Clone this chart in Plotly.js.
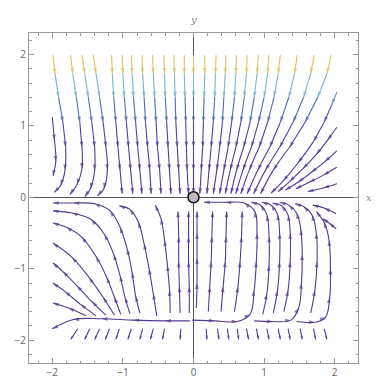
<!DOCTYPE html>
<html>
<head>
<meta charset="utf-8">
<script src="https://cdn.plot.ly/plotly-3.0.1.min.js"></script>
<style>html,body{margin:0;padding:0;background:#fff}</style>
</head>
<body>
<div id="plot" style="width:381px;height:389px"></div>
<script>
// upper half: lines that start at y = 2, x sampled at these heights
const levelsY = [1.99, 1.73, 1.40, 1.05, 0.70, 0.38, 0.05];
const topLinesX = [
    [-1.16, -1.15, -1.13, -1.10, -1.07, -1.04, -1.01],
    [-1.01, -1.00, -0.98, -0.95, -0.92, -0.89, -0.86],
    [-0.88, -0.87, -0.85, -0.82, -0.79, -0.76, -0.73],
    [-0.73, -0.72, -0.70, -0.68, -0.65, -0.62, -0.60],
    [-0.58, -0.57, -0.55, -0.53, -0.51, -0.48, -0.46],
    [-0.42, -0.41, -0.40, -0.38, -0.36, -0.34, -0.32],
    [-0.28, -0.27, -0.26, -0.25, -0.23, -0.21, -0.19],
    [-0.13, -0.13, -0.12, -0.11, -0.10, -0.09, -0.07],
    [0, 0, 0, 0, 0, 0, 0],
    [0.16, 0.16, 0.15, 0.14, 0.13, 0.11, 0.09],
    [0.32, 0.31, 0.30, 0.28, 0.25, 0.22, 0.19],
    [0.46, 0.45, 0.43, 0.41, 0.37, 0.33, 0.28],
    [0.61, 0.60, 0.58, 0.54, 0.49, 0.43, 0.37],
    [0.76, 0.75, 0.72, 0.67, 0.60, 0.52, 0.45],
    [0.92, 0.90, 0.86, 0.80, 0.71, 0.61, 0.53],
    [1.07, 1.05, 1.00, 0.92, 0.82, 0.70, 0.60],
    [1.23, 1.20, 1.14, 1.05, 0.93, 0.79, 0.67],
    [1.47, 1.43, 1.35, 1.23, 1.08, 0.91, 0.76],
    [1.71, 1.66, 1.56, 1.41, 1.22, 1.02, 0.85],
    [1.95, 1.89, 1.76, 1.58, 1.36, 1.13, 0.95],
];

// upper left lines bending left near the x axis
const upperLeftLines = [
    [[-1.99, 1.99], [-1.96, 1.72], [-1.91, 1.40], [-1.85, 1.05], [-1.81, 0.70], [-1.82, 0.38], [-1.88, 0.17], [-1.97, 0.07]],
    [[-1.74, 1.99], [-1.71, 1.73], [-1.66, 1.40], [-1.61, 1.05], [-1.58, 0.70], [-1.58, 0.40], [-1.65, 0.18], [-1.75, 0.04]],
    [[-1.58, 1.99], [-1.54, 1.73], [-1.49, 1.40], [-1.44, 1.05], [-1.40, 0.70], [-1.40, 0.38], [-1.46, 0.12], [-1.54, 0.01]],
    [[-1.42, 1.99], [-1.38, 1.73], [-1.33, 1.40], [-1.28, 1.05], [-1.24, 0.70], [-1.22, 0.38], [-1.27, 0.12], [-1.36, 0.02]],
    [[-2.00, 1.12], [-1.97, 0.80], [-1.95, 0.50], [-1.99, 0.30]],
];

// upper right lines entering from the right edge
const edgeLines = [
    [[2.03, 1.47], [1.96, 1.30], [1.85, 1.05], [1.70, 0.78], [1.48, 0.48], [1.27, 0.23], [1.10, 0.06]],
    [[2.03, 0.98], [1.90, 0.80], [1.74, 0.60], [1.55, 0.40], [1.36, 0.22], [1.20, 0.08]],
    [[2.03, 0.65], [1.86, 0.50], [1.67, 0.35], [1.48, 0.21], [1.30, 0.10]],
    [[2.03, 0.42], [1.84, 0.31], [1.64, 0.21], [1.45, 0.12]],
    [[2.03, 0.19], [1.84, 0.13], [1.62, 0.08]],
];

// lower right: loops rising and turning left under the x axis
const lowerArcs = [
    [[-0.02, -1.72], [0.30, -1.73], [0.62, -1.74], [0.80, -1.64], [0.86, -1.30], [0.89, -0.90], [0.90, -0.50], [0.87, -0.20], [0.72, -0.08], [0.45, -0.07], [0.15, -0.07]],
    [[0.98, -1.64], [1.04, -1.35], [1.07, -0.95], [1.07, -0.55], [1.04, -0.25], [0.95, -0.11], [0.82, -0.07]],
    [[1.13, -1.62], [1.19, -1.30], [1.22, -0.90], [1.22, -0.50], [1.19, -0.24], [1.10, -0.11], [0.97, -0.07]],
    [[1.28, -1.60], [1.34, -1.30], [1.37, -0.90], [1.37, -0.50], [1.34, -0.25], [1.25, -0.12], [1.12, -0.08]],
    [[0.86, -1.73], [1.12, -1.74], [1.38, -1.72], [1.49, -1.55], [1.53, -1.20], [1.54, -0.80], [1.52, -0.45], [1.46, -0.22], [1.35, -0.11], [1.22, -0.07]],
    [[1.66, -1.62], [1.72, -1.30], [1.75, -0.90], [1.74, -0.50], [1.68, -0.25], [1.56, -0.13], [1.44, -0.09]],
    [[1.46, -1.74], [1.72, -1.75], [1.87, -1.68], [1.93, -1.40], [1.94, -1.00], [1.92, -0.60], [1.85, -0.35], [1.74, -0.20]],
    [[2.02, -0.23], [1.85, -0.15], [1.69, -0.11]],
    [[2.02, -0.44], [1.92, -0.36], [1.83, -0.30]],
];

// lower middle: near vertical rising lines
const lowerVerticals = [
    [[0.04, -1.55], [0.05, -1.20], [0.05, -0.85], [0.05, -0.50], [0.05, -0.20]],
    [[0.21, -1.60], [0.23, -1.25], [0.25, -0.90], [0.26, -0.55], [0.27, -0.20]],
    [[0.39, -1.60], [0.42, -1.25], [0.45, -0.90], [0.46, -0.55], [0.47, -0.20]],
    [[0.58, -1.60], [0.63, -1.25], [0.66, -0.90], [0.68, -0.55], [0.69, -0.20]],
    [[-0.06, -1.62], [-0.06, -1.25], [-0.07, -0.90], [-0.07, -0.55], [-0.07, -0.20]],
    [[-0.19, -1.62], [-0.20, -1.25], [-0.21, -0.90], [-0.21, -0.55], [-0.22, -0.20]],
    [[-0.33, -1.62], [-0.34, -1.30], [-0.37, -0.95], [-0.41, -0.60], [-0.46, -0.30], [-0.54, -0.11]],
    [[-0.52, -1.66], [-0.57, -1.35], [-0.63, -1.00], [-0.70, -0.65], [-0.78, -0.35], [-0.90, -0.17], [-1.05, -0.12]],
];

// lower left: S shaped lines leaving through the left edge
const lowerLeftLines = [
    [[-0.76, -1.62], [-0.82, -1.38], [-0.87, -1.05], [-0.94, -0.72], [-1.04, -0.42], [-1.18, -0.19], [-1.40, -0.09], [-1.70, -0.08], [-1.99, -0.08]],
    [[-0.90, -1.63], [-0.97, -1.40], [-1.04, -1.10], [-1.13, -0.80], [-1.26, -0.52], [-1.45, -0.31], [-1.72, -0.22], [-1.99, -0.19]],
    [[-1.03, -1.64], [-1.12, -1.40], [-1.23, -1.12], [-1.38, -0.83], [-1.58, -0.56], [-1.80, -0.42], [-1.99, -0.36]],
    [[-1.12, -1.65], [-1.28, -1.40], [-1.48, -1.12], [-1.72, -0.84], [-1.99, -0.64]],
    [[-1.24, -1.65], [-1.44, -1.46], [-1.65, -1.24], [-1.85, -1.04], [-1.99, -0.92]],
    [[-1.38, -1.66], [-1.60, -1.50], [-1.82, -1.32], [-1.99, -1.20]],
    [[-1.52, -1.66], [-1.77, -1.55], [-1.99, -1.48]],
    [[-0.05, -1.73], [-0.40, -1.73], [-0.85, -1.72], [-1.30, -1.70], [-1.70, -1.71], [-2.00, -1.84]],
];

// short strokes below the bottom line
const strokeY = [-1.84, -1.99];
const strokeTopX = [-1.64, -1.47, -1.33, -1.19, -1.05, -0.88, -0.72, -0.57, -0.41, -0.18,
    0.18, 0.34, 0.48, 0.62, 0.75, 0.89, 1.04, 1.20, 1.34, 1.51, 1.70, 1.85];
const strokeBottomX = [-1.74, -1.54, -1.40, -1.25, -1.10, -0.93, -0.76, -0.61, -0.44, -0.19,
    0.19, 0.36, 0.50, 0.64, 0.78, 0.92, 1.07, 1.23, 1.37, 1.54, 1.73, 1.89];

const purple = '#553a94';

function speedColor(y) {
    if (y > 1.68) return '#dcc462';
    if (y > 1.50) return '#7fb1d0';
    if (y > 1.35) return '#6790c6';
    if (y > 1.20) return '#5469b3';
    if (y > 1.00) return '#5052a5';
    if (y > 0.80) return '#52409a';
    return purple;
}

const traces = [];

function segColor(a, b) {
    return speedColor((a[1] + b[1]) / 2);
}

function pushRun(run, color) {
    traces.push({
        x: run.map(p => p[0]),
        y: run.map(p => p[1]),
        mode: 'lines',
        type: 'scatter',
        hoverinfo: 'skip',
        line: { color: color, width: 1.1, shape: 'spline' },
    });
}

function addStream(pts, arrowSize) {
    let run = [pts[0]];
    let runColor = segColor(pts[0], pts[1]);
    for (let i = 1; i < pts.length; i++) {
        const c = segColor(pts[i - 1], pts[i]);
        if (c !== runColor) {
            pushRun(run, runColor);
            run = [pts[i - 1]];
            runColor = c;
        }
        run.push(pts[i]);
    }
    pushRun(run, runColor);

    traces.push({
        x: pts.map(p => p[0]),
        y: pts.map(p => p[1]),
        mode: 'markers',
        type: 'scatter',
        hoverinfo: 'skip',
        marker: {
            symbol: 'arrow',
            angleref: 'previous',
            size: pts.map((p, i) => i === 0 ? 0 : arrowSize),
            color: pts.map((p, i) => i === 0 ? purple : segColor(pts[i - 1], p)),
            line: { width: 0 },
        },
    });
}

topLinesX.forEach(row => addStream(row.map((x, i) => [x, levelsY[i]]), 6));
upperLeftLines.forEach(l => addStream(l, 6));
edgeLines.forEach(l => addStream(l, 6));
lowerArcs.forEach(l => addStream(l, 6));
lowerVerticals.forEach(l => addStream(l, 6));
lowerLeftLines.forEach(l => addStream(l, 6));
strokeTopX.forEach((x, i) => addStream([[x, strokeY[0]], [strokeBottomX[i], strokeY[1]]], 4));

// fixed point at the origin
traces.push({
    x: [0], y: [0],
    mode: 'markers',
    type: 'scatter',
    hoverinfo: 'skip',
    marker: { symbol: 'circle', size: 11, color: '#c2b8bb', line: { color: '#111', width: 1.5 } },
});

const axisStyle = {
    range: [-2.33, 2.33],
    showgrid: false,
    zeroline: true,
    zerolinecolor: '#555',
    zerolinewidth: 1,
    showline: true,
    linecolor: '#999',
    linewidth: 1,
    mirror: 'ticks',
    ticks: 'inside',
    ticklen: 5,
    tickcolor: '#999',
    tickvals: [-2, -1, 0, 1, 2],
    minor: { ticks: 'inside', ticklen: 2.5, dtick: 0.2, tick0: 0, tickcolor: '#999' },
    tickfont: { family: 'Open Sans, sans-serif', size: 10, color: '#666' },
    fixedrange: true,
};

Plotly.newPlot('plot', traces, {
    width: 381,
    height: 389,
    margin: { l: 29, r: 23, t: 33, b: 26 },
    paper_bgcolor: '#fff',
    plot_bgcolor: '#fff',
    showlegend: false,
    xaxis: Object.assign({}, axisStyle),
    yaxis: Object.assign({}, axisStyle, { range: [-2.32, 2.3] }),
    annotations: [
        { text: 'x', xref: 'paper', x: 1, xanchor: 'left', xshift: 6, yref: 'y', y: 0, yanchor: 'middle',
          showarrow: false, font: { family: 'DejaVu Serif, serif', size: 10, color: '#888', style: 'italic' } },
        { text: 'y', xref: 'x', x: 0, xanchor: 'center', yref: 'paper', y: 1, yanchor: 'bottom', yshift: 6,
          showarrow: false, font: { family: 'DejaVu Serif, serif', size: 10, color: '#888', style: 'italic' } },
    ],
}, { displayModeBar: false, staticPlot: true });
</script>
</body>
</html>
